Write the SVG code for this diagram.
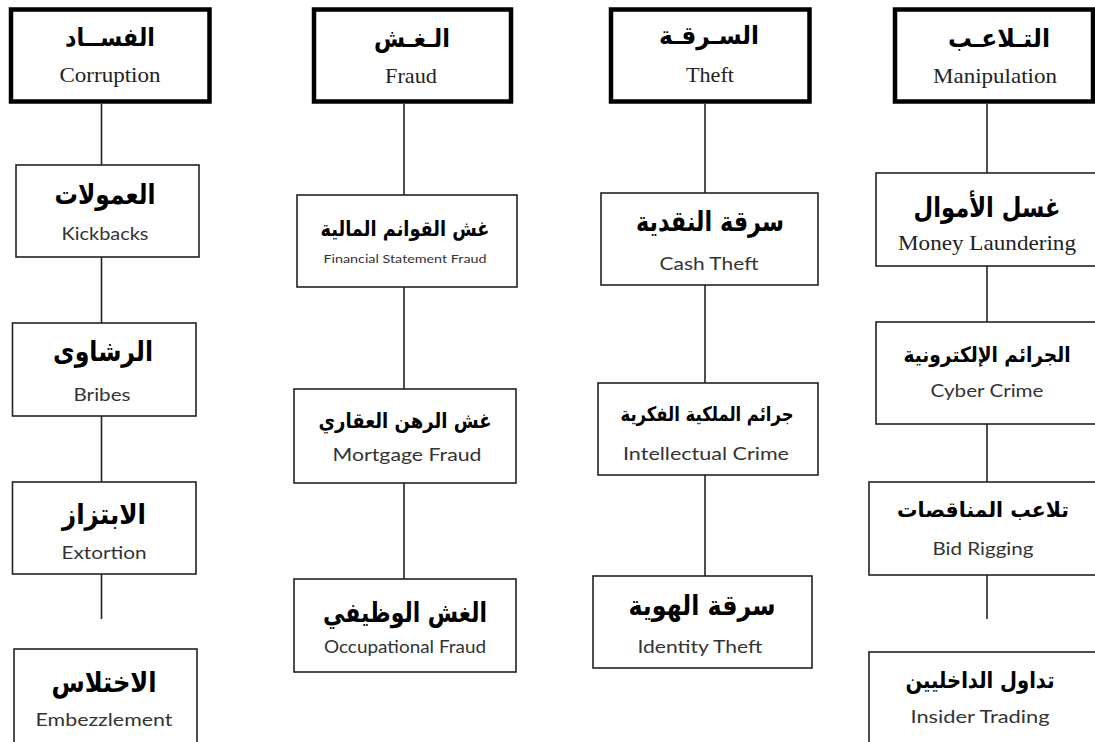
<svg xmlns="http://www.w3.org/2000/svg" width="1095" height="742" viewBox="0 0 1095 742">
<style>
.top{fill:#fff;stroke:#000;stroke-width:4.5}
.box{fill:#fff;stroke:#222;stroke-width:1.6}
.ln{stroke:#222;stroke-width:1.6;fill:none}
.ar{font-family:"DejaVu Sans",sans-serif;font-weight:bold;fill:#000;text-anchor:middle}
.en{font-family:"Lato","Open Sans",sans-serif;fill:#333;text-anchor:middle;font-size:17px}
.ens{font-family:"Liberation Serif",serif;fill:#222;text-anchor:middle;font-size:22px}
</style>
<rect width="1095" height="742" fill="#fff"/>
<g id="connectors">
<line class="ln" x1="101.5" y1="104" x2="101.5" y2="165"/>
<line class="ln" x1="101.5" y1="257" x2="101.5" y2="323"/>
<line class="ln" x1="101.5" y1="416" x2="101.5" y2="482"/>
<line class="ln" x1="101.5" y1="574" x2="101.5" y2="619"/>
<line class="ln" x1="404" y1="104" x2="404" y2="195"/>
<line class="ln" x1="404" y1="287" x2="404" y2="389"/>
<line class="ln" x1="404" y1="483" x2="404" y2="579"/>
<line class="ln" x1="705" y1="104" x2="705" y2="193"/>
<line class="ln" x1="705" y1="285" x2="705" y2="383"/>
<line class="ln" x1="705" y1="475" x2="705" y2="576"/>
<line class="ln" x1="987" y1="104" x2="987" y2="173"/>
<line class="ln" x1="987" y1="266" x2="987" y2="322"/>
<line class="ln" x1="987" y1="424" x2="987" y2="482"/>
<line class="ln" x1="987" y1="575" x2="987" y2="619"/>
</g>
<g id="corruption">
<rect class="top" x="11" y="9.5" width="198.5" height="92"/>
<text class="ar" x="110" y="46" font-size="25" textLength="90" lengthAdjust="spacingAndGlyphs">الفســاد</text>
<text class="ens" x="110" y="82" textLength="101" lengthAdjust="spacingAndGlyphs">Corruption</text>
</g>
<g id="kickbacks">
<rect class="box" x="16" y="165" width="183" height="92"/>
<text class="ar" x="105" y="204" font-size="28" textLength="101" lengthAdjust="spacingAndGlyphs">العمولات</text>
<text class="en" x="105" y="240" textLength="87" lengthAdjust="spacingAndGlyphs">Kickbacks</text>
</g>
<g id="bribes">
<rect class="box" x="12.5" y="323" width="183.5" height="93"/>
<text class="ar" x="103" y="361" font-size="28" textLength="100" lengthAdjust="spacingAndGlyphs">الرشاوى</text>
<text class="en" x="102" y="401" textLength="57" lengthAdjust="spacingAndGlyphs">Bribes</text>
</g>
<g id="extortion">
<rect class="box" x="12.5" y="482" width="183.5" height="92"/>
<text class="ar" x="104" y="524" font-size="28" textLength="84" lengthAdjust="spacingAndGlyphs">الابتزاز</text>
<text class="en" x="104" y="559" textLength="85" lengthAdjust="spacingAndGlyphs">Extortion</text>
</g>
<g id="embezzlement">
<rect class="box" x="14" y="649" width="183" height="100"/>
<text class="ar" x="104" y="692" font-size="28" textLength="105" lengthAdjust="spacingAndGlyphs">الاختلاس</text>
<text class="en" x="104" y="726" textLength="137" lengthAdjust="spacingAndGlyphs">Embezzlement</text>
</g>
<g id="fraud">
<rect class="top" x="314" y="9.5" width="197" height="92"/>
<text class="ar" x="412" y="47" font-size="25" textLength="76" lengthAdjust="spacingAndGlyphs">الـغـش</text>
<text class="ens" x="411" y="83" textLength="52" lengthAdjust="spacingAndGlyphs">Fraud</text>
</g>
<g id="financial-statement-fraud">
<rect class="box" x="297" y="195" width="220" height="92"/>
<text class="ar" x="405" y="236" font-size="21" textLength="169" lengthAdjust="spacingAndGlyphs">غش القوانم المالية</text>
<text class="en" x="405" y="263" textLength="163" lengthAdjust="spacingAndGlyphs" style="font-size:12px">Financial Statement Fraud</text>
</g>
<g id="mortgage-fraud">
<rect class="box" x="294" y="389" width="222" height="94"/>
<text class="ar" x="405" y="428" font-size="21" textLength="173" lengthAdjust="spacingAndGlyphs">غش الرهن العقاري</text>
<text class="en" x="407" y="461" textLength="149" lengthAdjust="spacingAndGlyphs">Mortgage Fraud</text>
</g>
<g id="occupational-fraud">
<rect class="box" x="294" y="579" width="222" height="93"/>
<text class="ar" x="405" y="622" font-size="27" textLength="164" lengthAdjust="spacingAndGlyphs">الغش الوظيفي</text>
<text class="en" x="405" y="653" textLength="162" lengthAdjust="spacingAndGlyphs">Occupational Fraud</text>
</g>
<g id="theft">
<rect class="top" x="611" y="9.5" width="198.5" height="92"/>
<text class="ar" x="709" y="44" font-size="25" textLength="100" lengthAdjust="spacingAndGlyphs">السـرقـة</text>
<text class="ens" x="710" y="82" textLength="48" lengthAdjust="spacingAndGlyphs">Theft</text>
</g>
<g id="cash-theft">
<rect class="box" x="601" y="193" width="217" height="92"/>
<text class="ar" x="710" y="231" font-size="28" textLength="148" lengthAdjust="spacingAndGlyphs">سرقة النقدية</text>
<text class="en" x="709" y="270" textLength="99" lengthAdjust="spacingAndGlyphs">Cash Theft</text>
</g>
<g id="intellectual-crime">
<rect class="box" x="598" y="383" width="220" height="92"/>
<text class="ar" x="707" y="421" font-size="20" textLength="173" lengthAdjust="spacingAndGlyphs">جرائم الملكية الفكرية</text>
<text class="en" x="706" y="460" textLength="166" lengthAdjust="spacingAndGlyphs">Intellectual Crime</text>
</g>
<g id="identity-theft">
<rect class="box" x="593" y="576" width="219" height="92"/>
<text class="ar" x="702" y="615" font-size="28" textLength="147" lengthAdjust="spacingAndGlyphs">سرقة الهوية</text>
<text class="en" x="700" y="653" textLength="125" lengthAdjust="spacingAndGlyphs">Identity Theft</text>
</g>
<g id="manipulation">
<rect class="top" x="895" y="9.5" width="198" height="92"/>
<text class="ar" x="999" y="47" font-size="25" textLength="102" lengthAdjust="spacingAndGlyphs">التـلاعـب</text>
<text class="ens" x="995" y="83" textLength="124" lengthAdjust="spacingAndGlyphs">Manipulation</text>
</g>
<g id="money-laundering">
<rect class="box" x="876" y="173" width="225" height="93"/>
<text class="ar" x="987" y="217" font-size="28" textLength="147" lengthAdjust="spacingAndGlyphs">غسل الأموال</text>
<text class="ens" x="987" y="250" textLength="178" lengthAdjust="spacingAndGlyphs">Money Laundering</text>
</g>
<g id="cyber-crime">
<rect class="box" x="876" y="322" width="225" height="102"/>
<text class="ar" x="987" y="362" font-size="21" textLength="167" lengthAdjust="spacingAndGlyphs">الجرائم الإلكترونية</text>
<text class="en" x="987" y="397" textLength="113" lengthAdjust="spacingAndGlyphs">Cyber Crime</text>
</g>
<g id="bid-rigging">
<rect class="box" x="869" y="482" width="232" height="93"/>
<text class="ar" x="983" y="517" font-size="21" textLength="172" lengthAdjust="spacingAndGlyphs">تلاعب المناقصات</text>
<text class="en" x="983" y="555" textLength="101" lengthAdjust="spacingAndGlyphs">Bid Rigging</text>
</g>
<g id="insider-trading">
<rect class="box" x="869" y="652" width="232" height="100"/>
<text class="ar" x="980" y="688" font-size="23" textLength="149" lengthAdjust="spacingAndGlyphs">تداول الداخليين</text>
<text class="en" x="980" y="723" textLength="139" lengthAdjust="spacingAndGlyphs">Insider Trading</text>
</g>
</svg>
